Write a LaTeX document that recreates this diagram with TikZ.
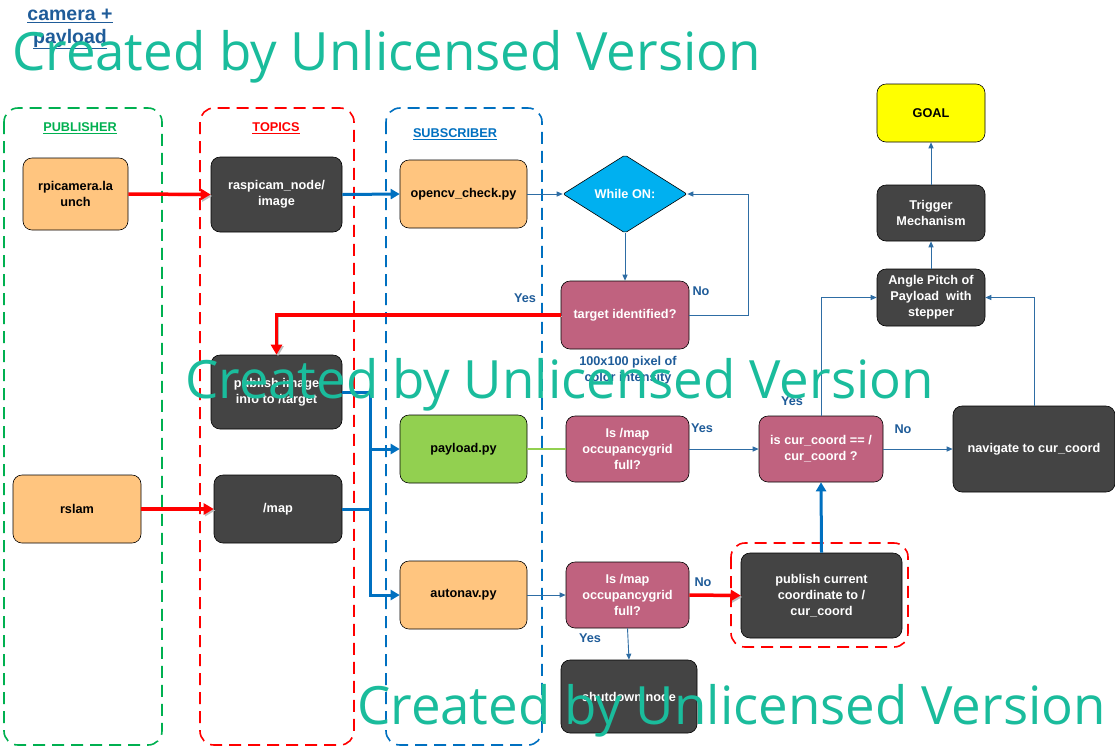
\documentclass[tikz,border=0pt]{standalone}
\usepackage{fontspec}
\setmainfont{Liberation Sans}
\newfontfamily\wmfont{Open Sans}
\usetikzlibrary{arrows.meta,shapes.geometric}
\definecolor{dkfill}{HTML}{444444}
\definecolor{orfill}{HTML}{FFC57F}
\definecolor{mvfill}{HTML}{C0627F}
\definecolor{gnfill}{HTML}{92D050}
\definecolor{cyfill}{HTML}{00B0F0}
\definecolor{ylfill}{HTML}{FFFF00}
\definecolor{thinblue}{HTML}{2E6DA4}
\definecolor{thickblue}{HTML}{0070C0}
\definecolor{lblblue}{HTML}{1F5C99}
\definecolor{grpgreen}{HTML}{00B050}
\definecolor{grpred}{HTML}{FF0000}
\definecolor{grpblue}{HTML}{0070C0}
\definecolor{wmteal}{HTML}{1ABC9C}
\begin{document}
\begin{tikzpicture}[x=1pt,y=-1pt,
  nd/.style={draw=black, line width=0.6pt, rounded corners=9pt, align=center, inner sep=2pt, font=\bfseries\fontsize{12.7}{15.8}\selectfont},
  dk/.style={nd, fill=dkfill, text=white},
  orb/.style={nd, fill=orfill, text=black},
  mv/.style={nd, fill=mvfill, text=white},
  grp/.style={dash pattern=on 12pt off 7pt, line width=1.6pt, rounded corners=14pt},
  lbl/.style={text=lblblue, font=\bfseries\fontsize{12.7}{15.5}\selectfont, align=center},
  thinarr/.style={draw=thinblue, line width=0.9pt, -{Triangle[length=6pt,width=5pt]}},
  thkred/.style={draw=red, line width=3.5pt, -{Triangle[length=10pt,width=11pt]}, preaction={draw=black!25, transform canvas={shift={(1.5pt,-1.5pt)}}}},
  thkblue/.style={draw=thickblue, line width=3pt},
  thkbluearr/.style={thkblue, -{Triangle[length=9pt,width=10pt]}},
  wm/.style={text=wmteal, font=\wmfont\fontsize{52.8}{53}\selectfont, anchor=base west, inner sep=0pt}]
\useasboundingbox[fill=white] (0,0) rectangle (1115,748);

% group boxes
\draw[grp, draw=grpgreen] (4,108) rectangle (162,745);
\draw[grp, draw=grpred] (200,108) rectangle (354,745);
\draw[grp, draw=grpblue] (386,108) rectangle (542,745);
\draw[grp, draw=red] (731,543) rectangle (908,647);

\node[lbl, text=grpgreen] (lpub) at (80,128) {\underline{PUBLISHER}};
\node[lbl, text=grpred] (ltop) at (276,128) {\underline{TOPICS}};
\node[lbl, text=grpblue] (lsub) at (455,134) {\underline{SUBSCRIBER}};

\node[text=lblblue, font=\bfseries\fontsize{19.5}{23}\selectfont, align=center] (title) at (70,29) {\underline{camera +}\\\underline{payload}};

% nodes
\node[orb, minimum width=105pt, minimum height=72pt] (rpi) at (75.5,194) {rpicamera.la\\unch};
\node[dk, minimum width=131pt, minimum height=75pt] (rasp) at (276.5,194.5) {raspicam\_node/\\image};
\node[orb, minimum width=127pt, minimum height=68pt] (opencv) at (463.5,194) {opencv\_check.py};
\node[diamond, draw=black, line width=0.6pt, fill=cyfill, rounded corners=2pt, minimum width=124pt, minimum height=78pt, inner sep=0pt, text=white, font=\bfseries\fontsize{12.7}{15}\selectfont] (while) at (625,194) {While ON:};
\node[mv, minimum width=128pt, minimum height=68pt] (target) at (625,315) {target identified?};
\node[dk, minimum width=131pt, minimum height=74pt] (pubimg) at (276.5,392) {publish image\\info to /target};
\node[nd, fill=gnfill, minimum width=127pt, minimum height=68pt] (payload) at (463.5,449) {payload.py};
\node[dk, minimum width=128pt, minimum height=68pt] (map) at (278,509) {/map};
\node[orb, minimum width=128pt, minimum height=68pt] (rslam) at (77,509) {rslam};
\node[orb, minimum width=127pt, minimum height=68pt] (autonav) at (463.5,595) {autonav.py};
\node[mv, minimum width=123pt, minimum height=66pt] (full1) at (627.5,449) {Is /map\\occupancygrid\\full?};
\node[mv, minimum width=123pt, minimum height=66pt] (full2) at (627.5,595) {Is /map\\occupancygrid\\full?};
\node[mv, minimum width=124pt, minimum height=66pt] (iscur) at (821,449) {is cur\_coord == /\\cur\_coord ?};
\node[dk, minimum width=162pt, minimum height=86pt] (nav) at (1034,449) {navigate to cur\_coord};
\node[dk, minimum width=161pt, minimum height=85pt] (pubcur) at (821.5,595.5) {publish current\\coordinate to /\\cur\_coord};
\node[dk, minimum width=136pt, minimum height=73pt] (shut) at (629,696.5) {shutdown node};
\node[nd, fill=ylfill, minimum width=108pt, minimum height=58pt] (goal) at (931,113) {GOAL};
\node[dk, minimum width=108pt, minimum height=56pt] (trig) at (931,213) {Trigger\\Mechanism};
\node[dk, minimum width=108pt, minimum height=57pt] (angle) at (931,297.5) {Angle Pitch of\\Payload~~with\\stepper};

% connectors
\draw[thkred] (rpi.east) -- (rasp.west);
\draw[thkred] (rslam.east) -- (map.west);
\draw[thkbluearr] (rasp.east) -- (opencv.west);
\draw[thinarr] (opencv.east) -- (while.west);
\draw[thinarr] (while.south) -- (target.north);
\draw[thinarr] (target.east) -- ++(59,0) |- (while.east);
\draw[thkred] (target.west) -| (pubimg.north);

\coordinate (b1) at (370,392);
\coordinate (b3) at (370,595);
\draw[thkbluearr] (pubimg.east) -- (b1) -- (b3) -- (autonav.west);
\draw[thkbluearr] (b1 |- payload.west) -- (payload.west);
\draw[thkblue] (map.east) -- (b1 |- map.east);

\draw[draw=gnfill, line width=1.5pt] (payload.east) -- (full1.west);
\draw[thinarr] (full1.east) -- (iscur.west);
\draw[thinarr] (iscur.east) -- (nav.west);
\draw[thinarr] (iscur.north) |- (angle.west);
\draw[thinarr] (nav.north) |- (angle.east);
\draw[thinarr] (angle.north) -- (trig.south);
\draw[thinarr] (trig.north) -- (goal.south);
\draw[thinarr] (autonav.east) -- (full2.west);
\draw[thkred] (full2.east) -- (pubcur.west);
\draw[thinarr] (full2.south) -- (shut.north);
\draw[thkbluearr] (pubcur.north) -- (iscur.south);

% labels
\node[lbl] (yes1) at (525,298) {Yes};
\node[lbl] (no1) at (701,291) {No};
\node[lbl] (pix) at (628,370) {100x100 pixel of\\color intensity};
\node[lbl] (yes2) at (702,428) {Yes};
\node[lbl] (no2) at (903,429) {No};
\node[lbl] (yes3) at (792,401) {Yes};
\node[lbl] (no3) at (703,582) {No};
\node[lbl] (yes4) at (590,638) {Yes};

% watermark
\node[wm] (wm1) at (12,70) {Created by Unlicensed Version};
\node[wm] (wm2) at (185,398) {Created by Unlicensed Version};
\node[wm] (wm3) at (357,724) {Created by Unlicensed Version};
\end{tikzpicture}
\end{document}
